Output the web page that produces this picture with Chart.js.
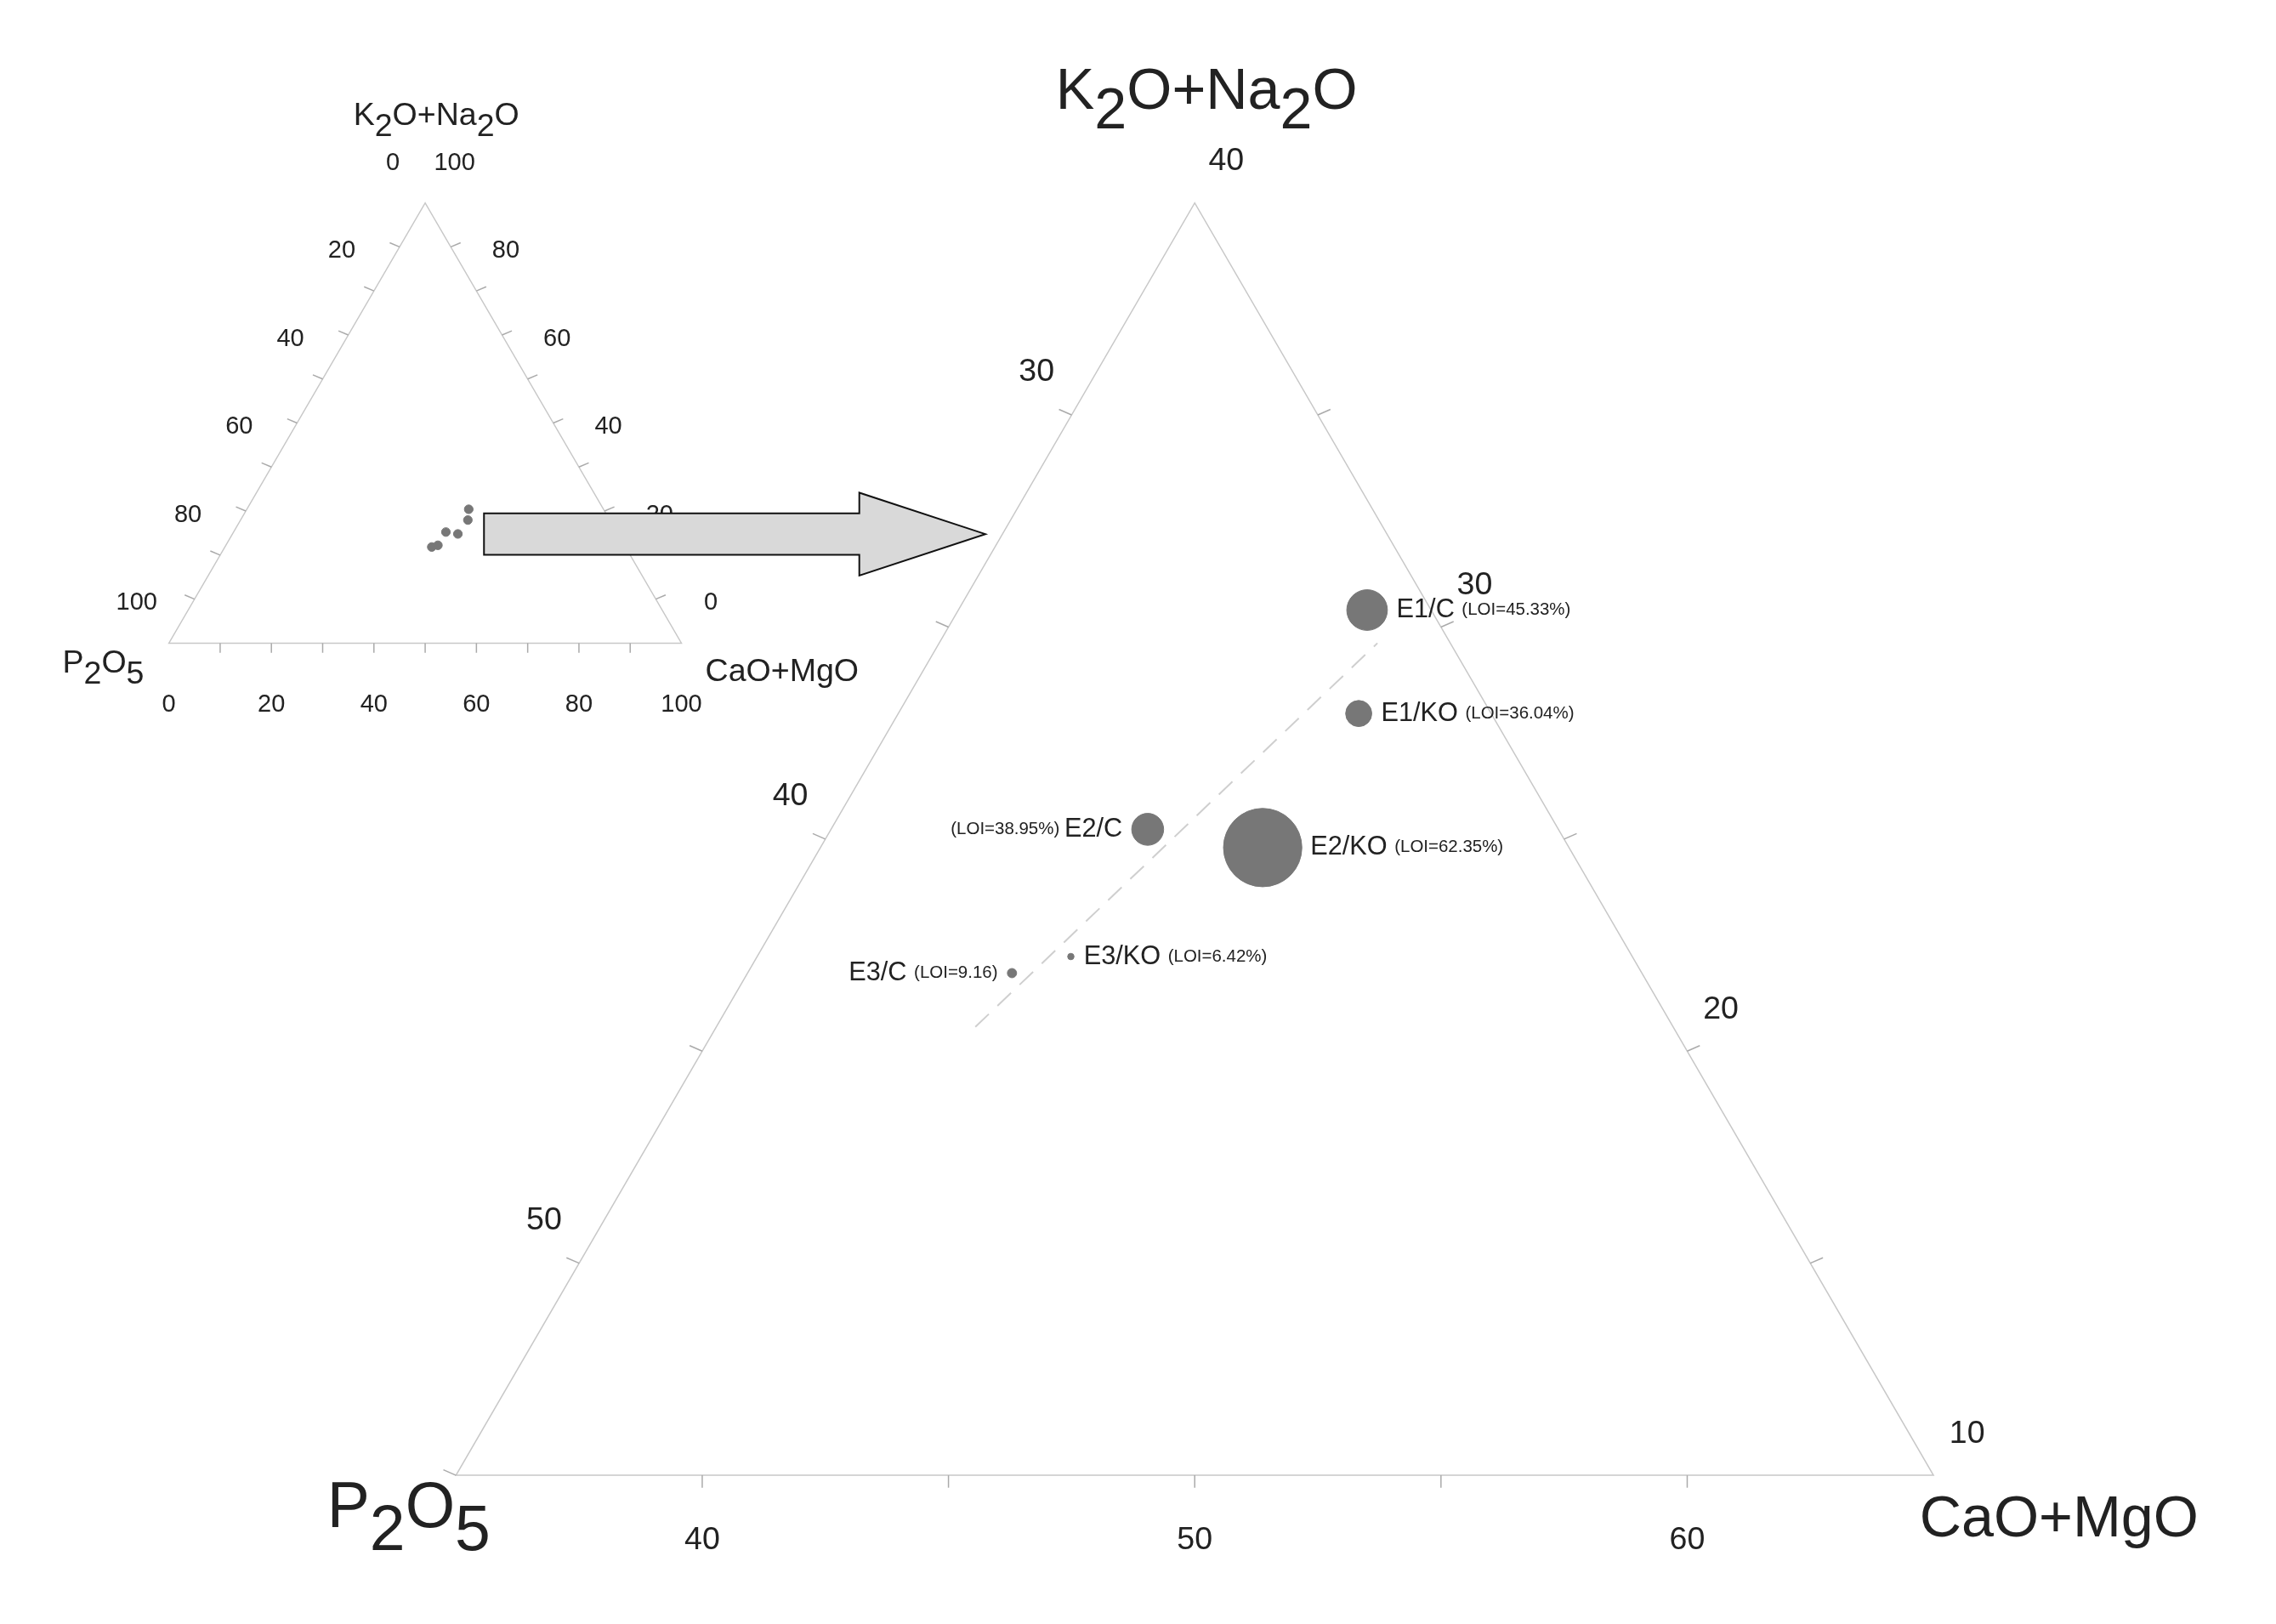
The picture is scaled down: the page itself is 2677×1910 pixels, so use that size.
<!DOCTYPE html>
<html><head><meta charset="utf-8">
<script src="https://cdn.jsdelivr.net/npm/chart.js@4"></script>
<style>html,body{margin:0;padding:0;background:#fff}#wrap{width:2677px;height:1910px}</style>
</head><body><div id="wrap"><canvas id="c" width="2677" height="1910"></canvas></div>
<script>
// ---- data ----
const samples = ['E1/C','E1/KO','E2/C','E2/KO','E3/C','E3/KO'];
const k2oNa2o = [30.4, 27.96, 25.23, 24.8, 21.84, 22.23];
const caoMgo  = [43.3, 44.35, 41.43, 43.98, 40.37, 41.37];
const p2o5    = [26.3, 27.69, 33.34, 31.22, 37.79, 36.4];
const loiLabels = ['(LOI=45.33%)','(LOI=36.04%)','(LOI=38.95%)','(LOI=62.35%)','(LOI=9.16)','(LOI=6.42%)'];
const trendK = [20.57, 29.62];
const trendC = [40.26, 43.9];
const trendP = [39.17, 26.48];
const bigLeftTicks = [30, 40, 50];     // P2O5
const bigRightTicks = [30, 20, 10];    // K2O+Na2O
const bigBottomTicks = [40, 50, 60];   // CaO+MgO
const smallTicks = [0, 20, 40, 60, 80, 100];

// ---- geometry / style (reference units) ----
const S = 2677/1568;
const BIG = {bl:[297,1040], w:1055, h:922, k0:10, c0:35, span:30};
const SMALL = {bl:[92,437], w:366, h:319, k0:0, c0:0, span:100};
const radii = [14, 9, 11, 27, 3.2, 2.2];
const labelSide = ['r','r','l','r','l','r'];
const GREY = '#777777', LINE = '#c8c8c8', TXT = '#222222';
const FONT = '"Liberation Sans", Arial, sans-serif';

function tern(T, K, C, P){
  const sum = K + C + P; K = K*100/sum; C = C*100/sum;
  const h = (K - T.k0)/T.span, c = (C - T.c0)/T.span;
  return {x: T.bl[0] + c*T.w + h*T.w/2, y: T.bl[1] - h*T.h};
}
const bigPts = samples.map((s,i)=>tern(BIG,k2oNa2o[i],caoMgo[i],p2o5[i]));
const smallPts = samples.map((s,i)=>tern(SMALL,k2oNa2o[i],caoMgo[i],p2o5[i]));
const trendPts = trendK.map((k,i)=>tern(BIG,k,trendC[i],trendP[i]));

function rich(ctx, X, Y, parts, align, sc){
  let w=0;
  parts.forEach(p=>{ctx.font=(p[1]*sc)+'px '+FONT; w+=ctx.measureText(p[0]).width;});
  let x = align==='r'? X-w : align==='c'? X-w/2 : X;
  parts.forEach(p=>{
    ctx.font=(p[1]*sc)+'px '+FONT;
    ctx.fillText(p[0], x, Y + (p[2]? p[1]*0.35*sc : 0));
    x += ctx.measureText(p[0]).width;
  });
}

const deco = {
  id:'deco',
  beforeDatasetsDraw(chart){
    const ctx = chart.ctx, xs = chart.scales.x, ys = chart.scales.y;
    const X = v=>xs.getPixelForValue(v), Y = v=>ys.getPixelForValue(v);
    ctx.save();
    ctx.fillStyle = TXT; ctx.textBaseline='middle';
    [BIG, SMALL].forEach(T=>{
      const A=[T.bl[0],T.bl[1]], B=[T.bl[0]+T.w,T.bl[1]], Cc=[T.bl[0]+T.w/2,T.bl[1]-T.h];
      ctx.strokeStyle = LINE; ctx.lineWidth = 1.5;
      ctx.beginPath(); ctx.moveTo(X(A[0]),Y(A[1])); ctx.lineTo(X(B[0]),Y(B[1])); ctx.lineTo(X(Cc[0]),Y(Cc[1])); ctx.closePath(); ctx.stroke();
    });
    // ticks helper
    const tick = (p, dx, dy) => { ctx.beginPath(); ctx.moveTo(X(p.x),Y(p.y)); ctx.lineTo(X(p.x+dx),Y(p.y+dy)); ctx.stroke(); };
    ctx.strokeStyle = '#aaaaaa'; ctx.lineWidth = 1.5;
    // big left (P2O5): K + C fixed c0 side => C = c0, K = 100 - P - c0
    const bf = 22*S;
    for (let v=30; v<=55; v+=5){ const p=tern(BIG,100-v-BIG.c0,BIG.c0,v); tick(p,-9,-4); }
    for (let v=15; v<=35; v+=5){ const p=tern(BIG,v,100-v-25,25); tick(p,9,-4); }
    for (let v=40; v<=60; v+=5){ const p=tern(BIG,10,v,90-v); tick(p,0,9); }
    ctx.textAlign='center';
    bigLeftTicks.forEach(v=>{const p=tern(BIG,100-v-BIG.c0,BIG.c0,v); ctx.font=bf+'px '+FONT; ctx.fillText(String(v),X(p.x-25),Y(p.y-31));});
    bigRightTicks.forEach(v=>{const p=tern(BIG,v,100-v-25,25); ctx.font=bf+'px '+FONT; ctx.fillText(String(v),X(p.x+24),Y(p.y-30));});
    bigBottomTicks.forEach(v=>{const p=tern(BIG,10,v,90-v); ctx.font=bf+'px '+FONT; ctx.fillText(String(v),X(p.x),Y(p.y+47));});
    ctx.font=bf+'px '+FONT; ctx.fillText('40',X(847),Y(88));
    // small
    const sf = 17*S;
    for (let v=10; v<=90; v+=10){
      tick(tern(SMALL,100-v,0,v),-7,-3); tick(tern(SMALL,v,100-v,0),7,-3); tick(tern(SMALL,0,v,100-v),0,7);
    }
    smallTicks.forEach(v=>{
      ctx.font=sf+'px '+FONT;
      let p=tern(SMALL,100-v,0,v); ctx.fillText(String(v),X(p.x-23),Y(p.y-29));
      p=tern(SMALL,v,100-v,0); ctx.fillText(String(v),X(p.x+21),Y(p.y-29));
      p=tern(SMALL,0,v,100-v); ctx.fillText(String(v),X(p.x),Y(p.y+45));
    });
    // titles
    ctx.textAlign='left';
    rich(ctx,X(283),Y(55),[['K',22],['2',22,1],['O+Na',22],['2',22,1],['O',22]],'c',S);
    rich(ctx,X(16),Y(452),[['P',22],['2',22,1],['O',22],['5',22,1]],'l',S);
    rich(ctx,X(475),Y(458),[['CaO+MgO',22]],'l',S);
    rich(ctx,X(833),Y(38),[['K',40],['2',40,1],['O+Na',40],['2',40,1],['O',40]],'c',S);
    rich(ctx,X(205),Y(1065),[['P',44],['2',44,1],['O',44],['5',44,1]],'l',S);
    rich(ctx,X(1342),Y(1073),[['CaO+MgO',40]],'l',S);
    // arrow
    const ap=[[317,343],[585,343],[585,328],[675,358],[585,388],[585,373],[317,373]];
    ctx.beginPath(); ap.forEach((q,i)=> i? ctx.lineTo(X(q[0]),Y(q[1])) : ctx.moveTo(X(q[0]),Y(q[1]))); ctx.closePath();
    ctx.fillStyle='#d9d9d9'; ctx.fill(); ctx.strokeStyle='#111'; ctx.lineWidth=2; ctx.stroke();
    ctx.restore();
  },
  afterDatasetsDraw(chart){
    const ctx = chart.ctx, xs = chart.scales.x, ys = chart.scales.y;
    const X = v=>xs.getPixelForValue(v), Y = v=>ys.getPixelForValue(v);
    ctx.save(); ctx.fillStyle=TXT; ctx.textBaseline='middle'; ctx.textAlign='left';
    // also "20" label inside arrow area of small triangle overlap kept (small tick label)
    bigPts.forEach((p,i)=>{
      const r = radii[i]+7;
      if (labelSide[i]==='r'){
        rich(ctx,X(p.x+r),Y(p.y),[[samples[i]+' ',18],[loiLabels[i],12]],'l',S);
      } else if (i===2){
        rich(ctx,X(p.x-r),Y(p.y),[[loiLabels[i]+' ',12],[samples[i],18]],'r',S);
      } else {
        rich(ctx,X(p.x-r),Y(p.y),[[samples[i]+' ',18],[loiLabels[i],12]],'r',S);
      }
    });
    ctx.restore();
  }
};
// E3/KO label has LOI first
samples.forEach((s,i)=>{});

const chart = new Chart(document.getElementById('c'), {
  type:'scatter',
  data:{datasets:[
    {data:trendPts, showLine:true, borderColor:'#cfcfcf', borderWidth:2, borderDash:[22,14], pointRadius:0, fill:false},
    {data:bigPts, backgroundColor:GREY, borderColor:GREY, pointRadius:radii.map(r=>r*S), pointHoverRadius:radii.map(r=>r*S)},
    {data:smallPts, backgroundColor:GREY, borderColor:GREY, pointRadius:3*S}
  ]},
  options:{
    responsive:false, animation:false, devicePixelRatio:1,
    layout:{padding:0},
    plugins:{legend:{display:false}, tooltip:{enabled:false}},
    scales:{
      x:{type:'linear', min:0, max:1568, display:false},
      y:{type:'linear', min:0, max:1910/S, reverse:true, display:false}
    }
  },
  plugins:[deco]
});
</script></body></html>
